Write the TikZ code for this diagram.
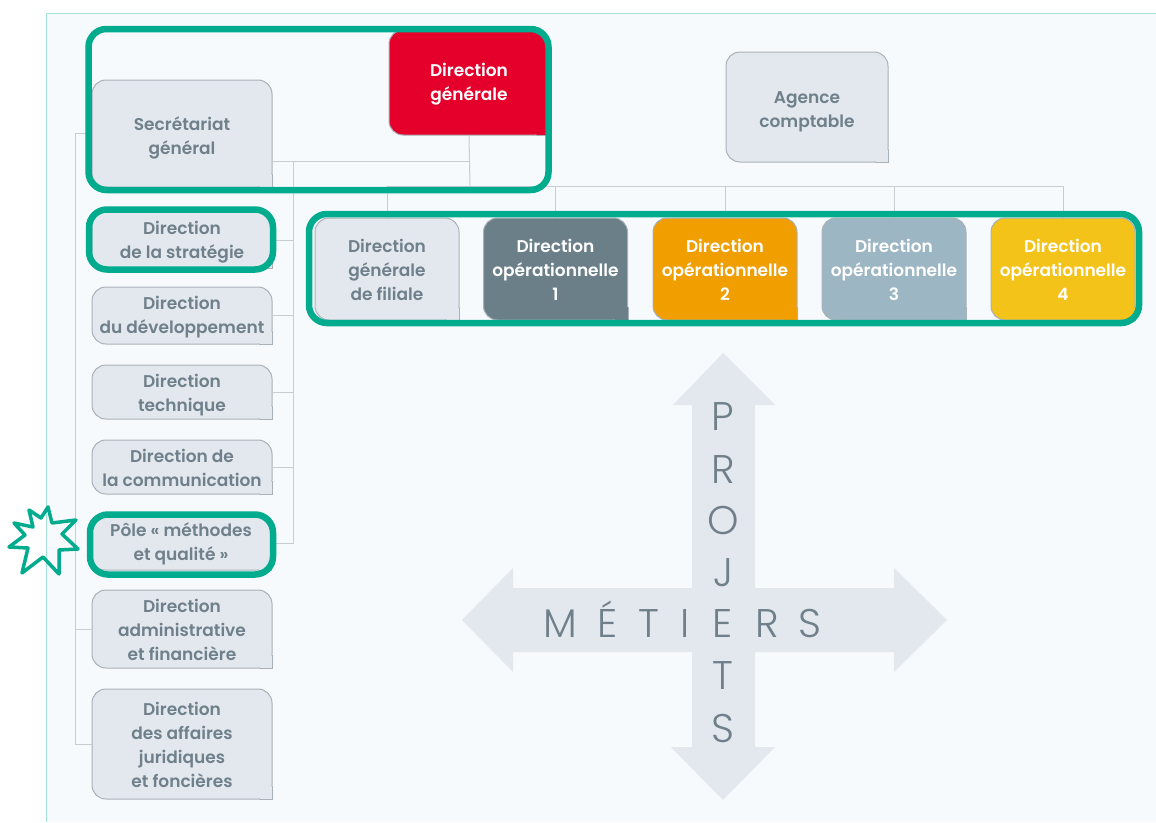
\documentclass[tikz,border=0pt]{standalone}
\usepackage{fontspec}
\setmainfont{Poppins}
\newfontfamily\finefont{Poppins Light}
\newfontfamily\boitefont{Poppins SemiBold}
\definecolor{fond}{HTML}{F6FAFD}
\definecolor{cadre}{HTML}{A5E3D5}
\definecolor{vert}{HTML}{00AB8E}
\definecolor{grisboite}{HTML}{E3E8EF}
\definecolor{grisbord}{HTML}{A9B1B8}
\definecolor{gristrait}{HTML}{C8CDD2}
\definecolor{gristexte}{HTML}{6F808A}
\definecolor{rouge}{HTML}{E4002B}
\definecolor{ardoise}{HTML}{6B7F89}
\definecolor{orange}{HTML}{F09E00}
\definecolor{bleugris}{HTML}{9DB6C3}
\definecolor{jaune}{HTML}{F4C31A}
\tikzset{
	boite/.style={rectangle,rounded corners=14,draw=grisbord,fill=#1,line width=1,inner sep=0,align=center,
		font=\boitefont\fontsize{17}{24}\selectfont,text=gristexte},
	boite/.default=grisboite,
	operation/.style={boite=#1,text=white,minimum width=144,minimum height=102},
	trait/.style={draw=gristrait,line width=1},
	entoure/.style={draw=vert,line width=6.5,rounded corners=18,inner sep=0},
	lettre/.style={inner sep=0,anchor=base,text=gristexte,font=\finefont\fontsize{40}{40}\selectfont}
}
\begin{document}
\begin{tikzpicture}[x=1pt,y=-1pt]
	\useasboundingbox (0,0) rectangle (1156,822);
	\fill[white] (0,0) rectangle (1156,822);
	\fill[fond] (46,13) rectangle (1156,822);
	\draw[cadre,line width=1] (46,822) -- (46,13) -- (1156,13);

	% croix
	\fill[grisboite] (723,353) -- (775,405) -- (755,405) -- (755,588) -- (894,588) -- (894,568) -- (947,620)
		-- (894,672) -- (894,652) -- (755,652) -- (755,747) -- (775,747) -- (723,800) -- (671,747) -- (692,747)
		-- (692,652) -- (513,652) -- (513,672) -- (462,620) -- (513,568) -- (513,588) -- (692,588) -- (692,405)
		-- (673,405) -- cycle;
	\foreach \c/\y in {P/430,R/483,O/534,J/586,E/637,T/689,S/742}
		\node[lettre] (p\c) at (723,\y) {\c};
	\foreach \c/\x in {M/560,É/608,T/649,I/685,R/767,S/810}
		\node[lettre] (m\c) at (\x,637) {\c};

	\node[boite=rouge,text=white,minimum width=160,minimum height=105] (dg) at (469,82.5) {\rule{0pt}{17pt}Direction\\générale};
	\node[boite,minimum width=180,minimum height=107] (sec) at (182,133.5) {\rule{0pt}{23pt}Secrétariat\\général};
	\node[boite,minimum width=162,minimum height=110] (agence) at (807,107) {\rule{0pt}{22pt}Agence\\comptable};
	\node[boite,minimum width=180,minimum height=56] (strat) at (182,240) {\rule{0pt}{17pt}Direction\\de la stratégie};
	\node[boite,minimum width=180,minimum height=57] (dev) at (182,315.5) {\rule{0pt}{17pt}Direction\\du développement};
	\node[boite,minimum width=180,minimum height=54] (tech) at (182,392) {\rule{0pt}{19pt}Direction\\technique};
	\node[boite,minimum width=180,minimum height=54] (com) at (182,467) {\rule{0pt}{16pt}Direction de\\la communication};
	\node[boite,minimum width=180,minimum height=53] (pole) at (181,543.5) {\rule{0pt}{15pt}Pôle « méthodes\\et qualité »};
	\node[boite,minimum width=180,minimum height=78] (adm) at (182,629) {\rule{0pt}{15pt}Direction\\administrative\\et financière};
	\node[boite,minimum width=180,minimum height=110] (jur) at (182,744) {\rule{0pt}{16pt}Direction\\des affaires\\juridiques\\et foncières};

	\node[boite,minimum width=144,minimum height=102] (fil) at (387,269) {\rule{0pt}{15pt}Direction\\générale\\de filiale};
	\node[operation=ardoise] (op1) at (555.5,269) {\rule{0pt}{15pt}Direction\\opérationnelle\\1};
	\node[operation=orange] (op2) at (725,269) {\rule{0pt}{15pt}Direction\\opérationnelle\\2};
	\node[operation=bleugris] (op3) at (894,269) {\rule{0pt}{15pt}Direction\\opérationnelle\\3};
	\node[operation=jaune] (op4) at (1063,269) {\rule{0pt}{15pt}Direction\\opérationnelle\\4};

	% coins droits en bas
	\foreach \n/\c in {dg/rouge,sec/grisboite,agence/grisboite,strat/grisboite,dev/grisboite,tech/grisboite,com/grisboite,pole/grisboite,adm/grisboite,jur/grisboite,fil/grisboite,op1/ardoise,op2/orange,op3/bleugris,op4/jaune}{
		\fill[\c] ([shift={(-14,0)}]\n.south east) -- (\n.south east) -- ([shift={(0,-14)}]\n.south east) -- cycle;
		\draw[grisbord,line width=1] ([shift={(-14,0)}]\n.south east) -- (\n.south east) -- ([shift={(0,-14)}]\n.south east);
	}

	\coordinate (railg) at (75,400);
	\coordinate (raild) at (293,400);
	\coordinate (nord) at (470,161);
	\coordinate (barre) at (470,186);

	\draw[trait] (sec.west) -- (sec.west -| railg) -- (jur.west -| railg) -- (jur.west);
	\draw[trait] (adm.west -| railg) -- (adm.west);
	\draw[trait] (dg.south) -- (barre);
	\draw[trait] (nord -| sec.east) -- (nord);
	\draw[trait] (nord -| raild) -- (pole.east -| raild) -- (pole.east);
	\foreach \n in {strat,dev,tech,com}
		\draw[trait] (\n.east) -- (\n.east -| raild);
	\draw[trait] (barre -| fil.north) -- (barre -| op4.north);
	\foreach \n in {fil,op1,op2,op3,op4}
		\draw[trait] (barre -| \n.north) -- (\n.north);

	\node[entoure,minimum width=460,minimum height=161] (zoneA) at (318.5,109.5) {};
	\node[entoure,minimum width=184,minimum height=60] (zoneB) at (181,239.5) {};
	\node[entoure,minimum width=183,minimum height=60] (zoneC) at (181.5,544.5) {};
	\node[entoure,minimum width=830,minimum height=109] (zoneD) at (724,268.5) {};

	\draw[vert,line width=3.5,line join=round] (29,510) -- (41,518) -- (48,507) -- (52,523) -- (76,520) -- (62,534)
		-- (78,549) -- (59,550) -- (59,574) -- (43,557) -- (22,573) -- (28,548) -- (9,547) -- (25,535) -- (14,523) -- (33,527) -- cycle;
\end{tikzpicture}
\end{document}
